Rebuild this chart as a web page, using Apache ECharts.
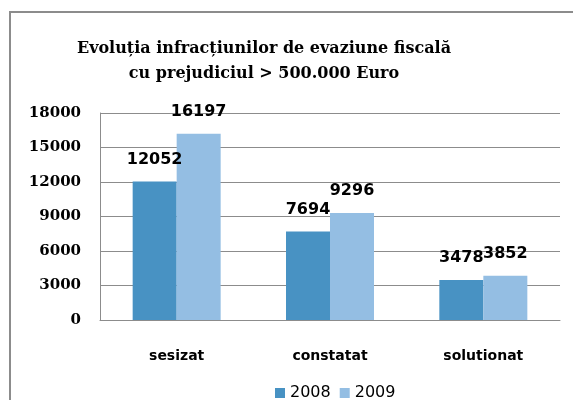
<!DOCTYPE html>
<html>
<head>
<meta charset="utf-8">
<script src="https://cdn.jsdelivr.net/npm/echarts@6/dist/echarts.min.js"></script>
<style>
  html, body { margin: 0; padding: 0; background: #fff; }
  #chart { width: 573px; height: 400px; }
</style>
</head>
<body>
<div id="chart"></div>
<script>
// date din grafic
var categories = ["sesizat", "constatat", "solutionat"];
var values2008 = [12052, 7694, 3478];
var values2009 = [16197, 9296, 3852];
var yTicks = [0, 3000, 6000, 9000, 12000, 15000, 18000];

var labelStyle = {
    show: true,
    position: 'top',
    distance: 14,
    fontFamily: 'DejaVu Sans',
    fontWeight: 'bold',
    fontSize: 16,
    color: '#000'
};

var myChart = echarts.init(document.getElementById('chart'));
var option = {
    animation: false,
    backgroundColor: '#fff',
    title: {
        text: 'Evoluția infracțiunilor de evaziune fiscală\ncu prejudiciul > 500.000 Euro',
        left: 259,
        top: 31,
        textAlign: 'center',
        textStyle: {
            fontFamily: 'DejaVu Serif',
            fontWeight: 'bold',
            fontSize: 16,
            lineHeight: 25,
            color: '#000'
        }
    },
    graphic: [{
        type: 'rect',
        shape: { x: 10, y: 12, width: 600, height: 420 },
        style: { fill: 'none', stroke: '#8c8c8c', lineWidth: 2 },
        silent: true
    }],
    legend: {
        data: ['2008', '2009'],
        top: 380,
        left: 270,
        itemWidth: 10,
        itemHeight: 10,
        itemGap: 9,
        icon: 'rect',
        textStyle: {
            fontFamily: 'DejaVu Sans',
            fontSize: 16,
            color: '#000'
        }
    },
    grid: {
        left: 100,
        right: 13,
        top: 113,
        bottom: 80
    },
    xAxis: {
        type: 'category',
        data: categories,
        axisLine: { lineStyle: { color: '#8c8c8c' } },
        axisTick: { show: false },
        axisLabel: {
            margin: 29,
            fontFamily: 'DejaVu Sans',
            fontWeight: 'bold',
            fontSize: 14,
            color: '#000'
        }
    },
    yAxis: {
        type: 'value',
        min: yTicks[0],
        max: yTicks[yTicks.length - 1],
        interval: 3000,
        axisLine: { show: true, lineStyle: { color: '#8c8c8c' } },
        axisTick: { show: false },
        splitLine: { lineStyle: { color: '#8c8c8c' } },
        axisLabel: {
            margin: 19,
            fontFamily: 'DejaVu Serif',
            fontWeight: 'bold',
            fontSize: 15,
            color: '#000',
            formatter: function(v){ return String(v); }
        }
    },
    series: [
        {
            name: '2008',
            type: 'bar',
            data: values2008,
            barWidth: 44,
            barGap: '0%',
            itemStyle: { color: '#4892c3' },
            label: labelStyle
        },
        {
            name: '2009',
            type: 'bar',
            data: values2009,
            barWidth: 44,
            itemStyle: { color: '#94bee3' },
            label: labelStyle
        }
    ]
};
myChart.setOption(option);
</script>
</body>
</html>
